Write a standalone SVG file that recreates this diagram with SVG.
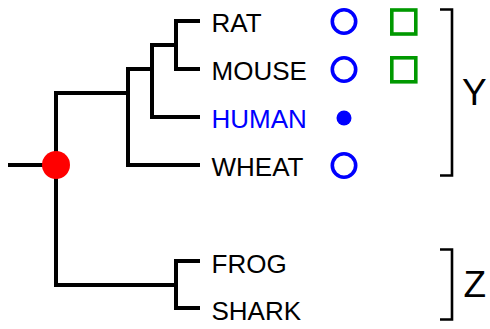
<svg xmlns="http://www.w3.org/2000/svg" width="490" height="329" viewBox="0 0 490 329">
  <style>
    .branch { fill: none; stroke: #000; stroke-width: 4; stroke-linejoin: miter; stroke-linecap: butt; }
    .label { font-family: "Liberation Sans", Arial, sans-serif; font-size: 26px; fill: #000; }
    .label.blue { fill: #0000ff; }
    .ring { fill: none; stroke: #0000ff; stroke-width: 3.6; }
    .dot { fill: #0000ff; }
    .box { fill: none; stroke: #009900; stroke-width: 3.6; }
    .bracket { fill: none; stroke: #000; stroke-width: 2.6; }
    .group-label { font-family: "Liberation Sans", Arial, sans-serif; font-size: 37px; fill: #000; }
  </style>
  <rect width="490" height="329" fill="#fff"/>

  <!-- tree branches -->
  <g id="connectors">
    <path class="branch" d="M8,165 H56"/>
    <path class="branch" d="M128,93 H56 V285 H176"/>
    <path class="branch" d="M152,69 H128 V165 H200"/>
    <path class="branch" d="M176,45 H152 V117 H200"/>
    <path class="branch" d="M200,21 H176 V69 H200"/>
    <path class="branch" d="M200,261 H176 V308 H200"/>
  </g>

  <!-- root -->
  <g id="root">
    <circle cx="56" cy="165" r="14" fill="#ff0000"/>
  </g>

  <!-- leaves -->
  <g id="rat">
    <text class="label" x="211.5" y="31.5">RAT</text>
    <circle class="ring" cx="344" cy="21.5" r="11.7"/>
    <rect class="box" x="391.8" y="10" width="24" height="24"/>
  </g>
  <g id="mouse">
    <text class="label" x="211.5" y="79.5">MOUSE</text>
    <circle class="ring" cx="344" cy="69.5" r="11.7"/>
    <rect class="box" x="391.8" y="57.8" width="24" height="24"/>
  </g>
  <g id="human">
    <text class="label blue" x="211.5" y="127.5">HUMAN</text>
    <circle class="dot" cx="344" cy="118" r="7.5"/>
  </g>
  <g id="wheat">
    <text class="label" x="211.5" y="175.5">WHEAT</text>
    <circle class="ring" cx="344" cy="165.5" r="11.7"/>
  </g>
  <g id="frog">
    <text class="label" x="211.5" y="272.5">FROG</text>
  </g>
  <g id="shark">
    <text class="label" x="211.5" y="319.5">SHARK</text>
  </g>

  <!-- clade brackets -->
  <g id="clade-y">
    <path class="bracket" d="M440,9.5 H452 V175.5 H440"/>
    <text class="group-label" x="462" y="105">Y</text>
  </g>
  <g id="clade-z">
    <path class="bracket" d="M440,249.5 H452 V319.5 H440"/>
    <text class="group-label" x="463.5" y="297">Z</text>
  </g>
</svg>
